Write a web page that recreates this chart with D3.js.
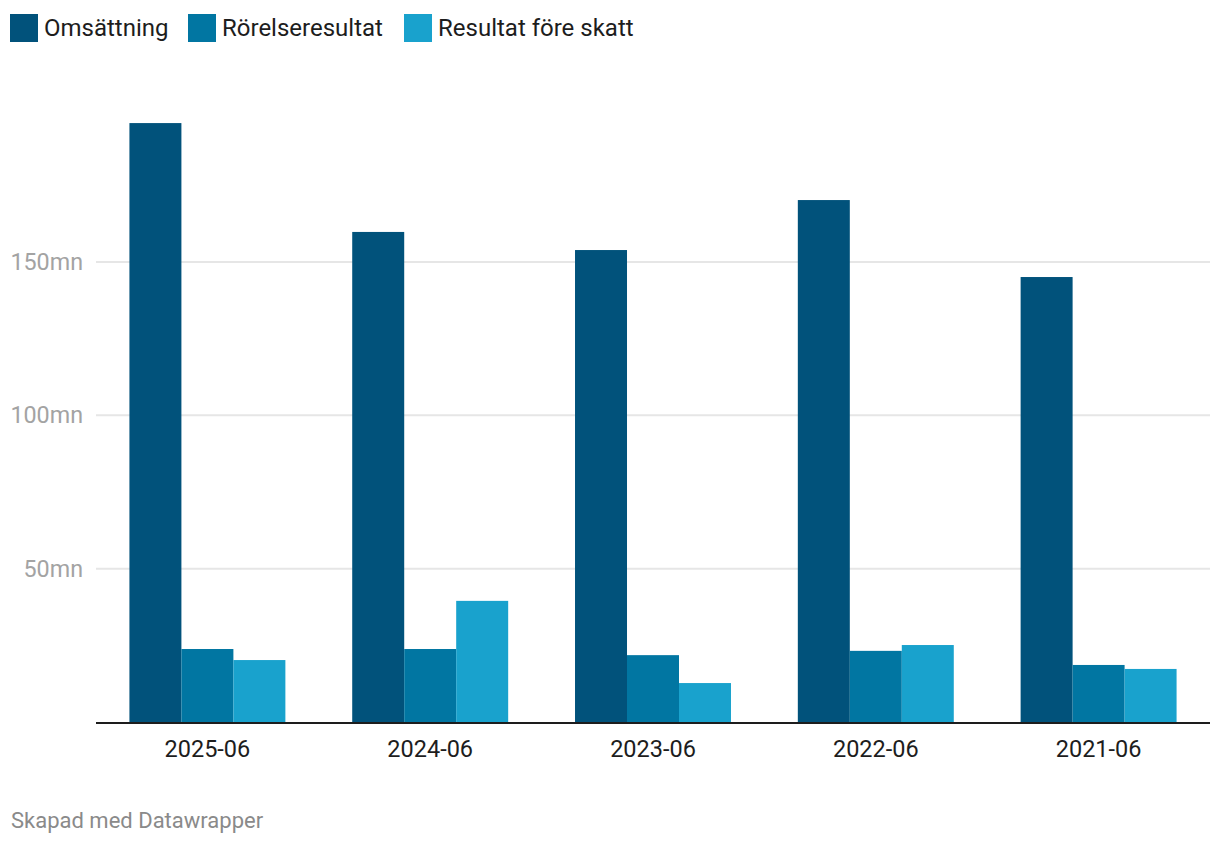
<!DOCTYPE html>
<html>
<head>
<meta charset="utf-8">
<script src="https://cdn.jsdelivr.net/npm/d3@7"></script>
<style>
  body { margin: 0; background: #fff; font-family: Roboto, sans-serif; }
</style>
</head>
<body>
<div id="chart"></div>
<script>
const periods = ["2025-06", "2024-06", "2023-06", "2022-06", "2021-06"];
const seriesNames = ["Omsättning", "Rörelseresultat", "Resultat före skatt"];
const omsattning = [195.3, 159.8, 153.9, 170.2, 145.1];
const rorelseresultat = [23.8, 23.8, 21.8, 23.2, 18.6];
const resultatForeSkatt = [20.2, 39.5, 12.7, 25.1, 17.3];
const yTicks = [50, 100, 150];
const colors = ["#01527b", "#0176a2", "#19a2cd"];

const width = 1220, height = 844;
const margin = { left: 96, right: 10, top: 108, bottom: 122 };

const svg = d3.select("#chart").append("svg")
  .attr("width", width)
  .attr("height", height);

const rows = periods.map((p, i) => ({
  period: p,
  values: [omsattning[i], rorelseresultat[i], resultatForeSkatt[i]]
}));

const x0 = d3.scaleBand()
  .domain(periods)
  .range([margin.left, width - margin.right])
  .paddingInner(0.3)
  .paddingOuter(0.15);

const x1 = d3.scaleBand()
  .domain(d3.range(seriesNames.length))
  .range([0, x0.bandwidth()]);

// 0 at y=722, 150mn at y=262
const y = d3.scaleLinear()
  .domain([0, 150])
  .range([722, 262]);

// gridlines
svg.append("g")
  .selectAll("line")
  .data(yTicks)
  .join("line")
  .attr("x1", margin.left)
  .attr("x2", width - margin.right)
  .attr("y1", d => y(d))
  .attr("y2", d => y(d))
  .attr("stroke", "#e6e6e6")
  .attr("stroke-width", 2);

// y labels
svg.append("g")
  .selectAll("text")
  .data(yTicks)
  .join("text")
  .attr("x", 83)
  .attr("y", d => y(d))
  .attr("text-anchor", "end")
  .attr("dominant-baseline", "central")
  .attr("fill", "#a3a3a3")
  .style("font-size", "23.3px")
  .text(d => d + "mn");

// bars
const group = svg.append("g")
  .selectAll("g")
  .data(rows)
  .join("g")
  .attr("transform", d => `translate(${x0(d.period)},0)`);

group.selectAll("rect")
  .data(d => d.values.map((v, i) => ({ v, i })))
  .join("rect")
  .attr("x", d => x1(d.i))
  .attr("width", x1.bandwidth())
  .attr("y", d => y(d.v))
  .attr("height", d => y(0) - y(d.v))
  .attr("fill", d => colors[d.i]);

// baseline
svg.append("line")
  .attr("x1", margin.left)
  .attr("x2", width - margin.right)
  .attr("y1", y(0) + 1)
  .attr("y2", y(0) + 1)
  .attr("stroke", "#1d1d1d")
  .attr("stroke-width", 2);

// x labels
svg.append("g")
  .selectAll("text")
  .data(periods)
  .join("text")
  .attr("x", d => x0(d) + x0.bandwidth() / 2)
  .attr("y", 757)
  .attr("text-anchor", "middle")
  .attr("fill", "#1d1d1d")
  .style("font-size", "23.5px")
  .text(d => d);

// legend
const legendX = [10, 188, 404];
const legend = svg.append("g")
  .selectAll("g")
  .data(seriesNames)
  .join("g")
  .attr("transform", (d, i) => `translate(${legendX[i]},14)`);

legend.append("rect")
  .attr("width", 28)
  .attr("height", 28)
  .attr("fill", (d, i) => colors[i]);

legend.append("text")
  .attr("x", 34)
  .attr("y", 22)
  .attr("fill", "#1d1d1d")
  .style("font-size", "24px")
  .text(d => d);

// footer
svg.append("text")
  .attr("x", 11)
  .attr("y", 828)
  .attr("fill", "#8a8a8a")
  .style("font-size", "22px")
  .text("Skapad med Datawrapper");
</script>
</body>
</html>
